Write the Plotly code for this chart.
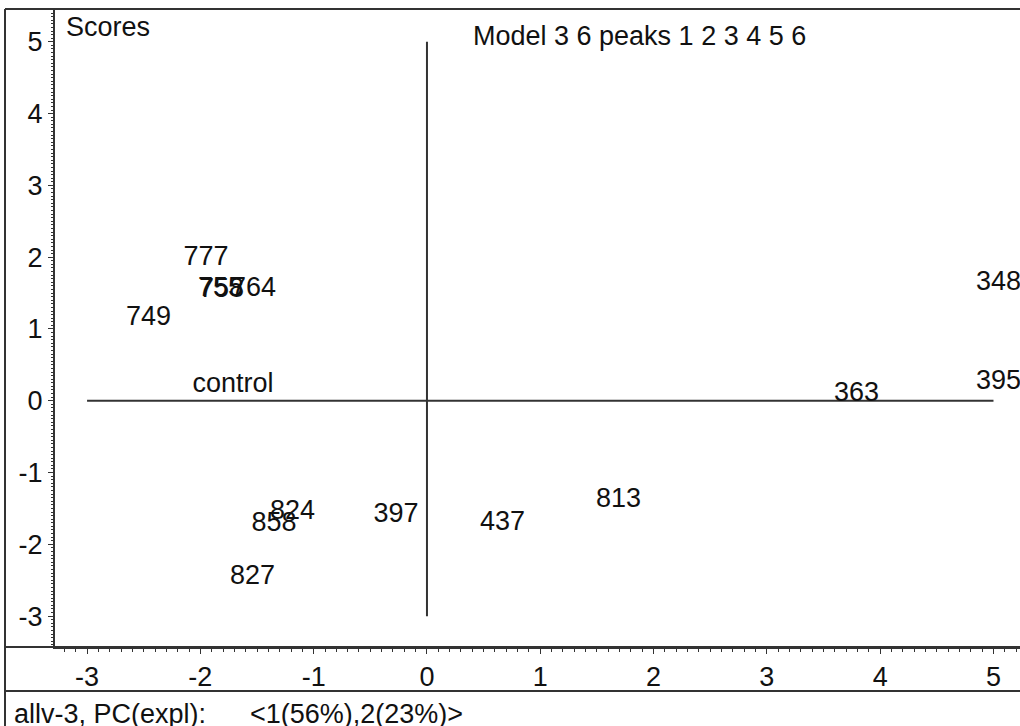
import plotly.graph_objects as go

# PCA score labels (PC1, PC2)
sample_labels = ["777", "755", "758", "764", "749", "control", "363", "395", "348",
                 "824", "858", "827", "397", "437", "813"]
pc1_scores = [-1.951, -1.823, -1.814, -1.531, -2.458, -1.712, 3.791, 5.044, 5.044,
              -1.187, -1.350, -1.540, -0.274, 0.666, 1.690]
pc2_scores = [1.989, 1.557, 1.543, 1.557, 1.153, 0.220, 0.095, 0.255, 1.641,
              -1.549, -1.716, -2.454, -1.591, -1.702, -1.382]

# Cross-hair lines through the origin
h_line_x = [-3, 5]
h_line_y = [0, 0]
v_line_x = [0, 0]
v_line_y = [-3, 5]

x_ticks = [-3, -2, -1, 0, 1, 2, 3, 4, 5]
y_ticks = [-3, -2, -1, 0, 1, 2, 3, 4, 5]

W, H = 1020, 726
FONT = "Arial, 'Liberation Sans', sans-serif"
INK = "#111111"
LINE = "#333333"
FS = 27


def px(x):
    return x / W


def py(y):
    return 1 - y / H


fig = go.Figure()

fig.add_trace(go.Scatter(x=h_line_x, y=h_line_y, mode="lines",
                         line=dict(color=LINE, width=2), hoverinfo="skip"))
fig.add_trace(go.Scatter(x=v_line_x, y=v_line_y, mode="lines",
                         line=dict(color=LINE, width=2), hoverinfo="skip"))
fig.add_trace(go.Scatter(x=pc1_scores, y=pc2_scores, mode="text", text=sample_labels,
                         textposition="middle center",
                         textfont=dict(family=FONT, size=FS, color=INK)))

fig.update_layout(
    width=W, height=H,
    margin=dict(l=0, r=0, t=0, b=0),
    paper_bgcolor="white", plot_bgcolor="white",
    showlegend=False,
    xaxis=dict(
        domain=[px(55), 1.0], range=[-3.283, 5.234],
        tickvals=x_ticks, ticktext=[str(v) for v in x_ticks],
        showgrid=False, zeroline=False,
        showline=True, linecolor=LINE, linewidth=2,
        ticks="outside", ticklen=5, tickwidth=1, tickcolor=LINE,
        ticklabelstandoff=0,
        minor=dict(dtick=0.1, tick0=0, ticks="outside", ticklen=3, tickwidth=1, tickcolor=LINE),
        tickfont=dict(family=FONT, size=FS, color=INK),
        fixedrange=True,
    ),
    yaxis=dict(
        domain=[py(647), py(9)], range=[-3.43, 5.457],
        tickvals=y_ticks, ticktext=[str(v) for v in y_ticks],
        showgrid=False, zeroline=False,
        showline=True, linecolor=LINE, linewidth=2,
        ticks="outside", ticklen=5, tickwidth=1, tickcolor=LINE,
        minor=dict(dtick=0.05, tick0=0, ticks="outside", ticklen=2, tickwidth=1, tickcolor=LINE),
        tickfont=dict(family=FONT, size=FS, color=INK),
        fixedrange=True,
    ),
)

# Outer frame and panel separators
frame = [
    (px(5), py(9), 1.0, py(9)),        # top border
    (px(5), py(9), px(5), 0.0),        # left border
    (px(5), py(647), 1.0, py(647)),    # below plot area
    (px(5), py(691), 1.0, py(691)),    # above footer
]
for x0, y0, x1, y1 in frame:
    fig.add_shape(type="line", xref="paper", yref="paper", x0=x0, y0=y0, x1=x1, y1=y1,
                  line=dict(color=LINE, width=2))

texts = [
    ("Scores", 64, 27),
    ("Model 3 6 peaks 1 2 3 4 5 6", 471, 36),
    ("allv-3, PC(expl):", 12, 714),
    ("<1(56%),2(23%)>", 248, 714),
]
for t, x, y in texts:
    fig.add_annotation(text=t, xref="paper", yref="paper", x=px(x), y=py(y),
                       xanchor="left", yanchor="middle", showarrow=False,
                       font=dict(family=FONT, size=FS, color=INK))

fig.write_html("out.html")
